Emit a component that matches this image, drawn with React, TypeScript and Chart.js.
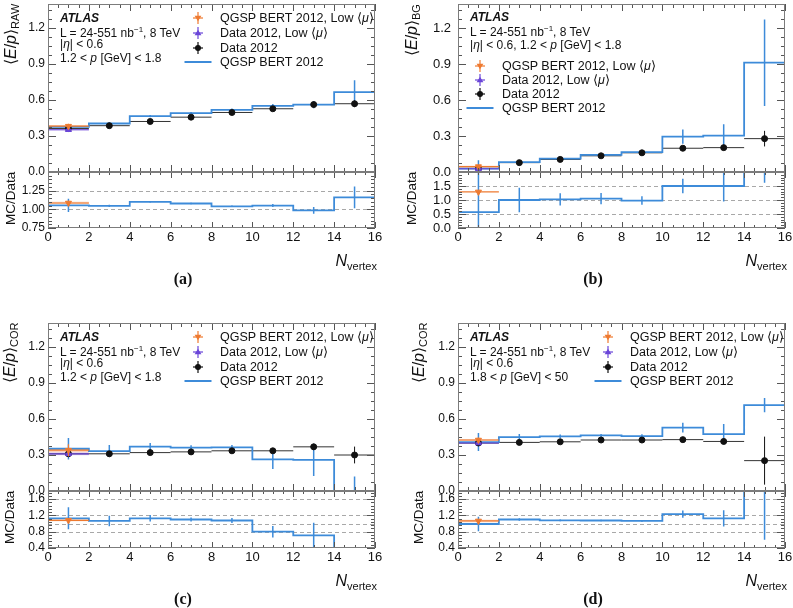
import React, { useEffect, useRef } from 'react';
import { Chart, registerables } from 'chart.js';

Chart.register(...registerables);

const FONT = '"Liberation Sans", Arial, Helvetica, sans-serif';
Chart.defaults.font.family = FONT;
Chart.defaults.color = '#111';

// ---------- shared axis data ----------
const BIN_EDGES = [0, 2, 4, 6, 8, 10, 12, 14, 16];
const X_TICKS = [0, 2, 4, 6, 8, 10, 12, 14, 16];
const MAIN_Y_TICKS = [0, 0.3, 0.6, 0.9, 1.2];

// ---------- panel (a): <E/p>_RAW ----------
const A_MC = [0.376, 0.404, 0.466, 0.491, 0.518, 0.551, 0.562, 0.665];
const A_MC_ERR = [0.012, 0.01, 0.01, 0.01, 0.012, 0.015, 0.03, 0.1];
const A_DATA = [0.362, 0.386, 0.421, 0.457, 0.496, 0.527, 0.562, 0.569];
const A_DATA_ERR = [0.006, 0.005, 0.005, 0.005, 0.006, 0.008, 0.012, 0.028];
const A_LOW_MC = [0.382];
const A_LOW_MC_ERR = [0.02];
const A_LOW_MC_BAND = [0.01];
const A_LOW_DATA = [0.352];
const A_LOW_DATA_ERR = [0.012];
const A_LOW_DATA_BAND = [0.007];
const A_RATIO = [1.053, 1.047, 1.1, 1.078, 1.04, 1.05, 0.987, 1.16];
const A_RATIO_ERR = [0.09, 0.015, 0.01, 0.01, 0.01, 0.02, 0.045, 0.145];
const A_LOW_RATIO = [1.085];
const A_LOW_RATIO_ERR = [0.03];
const A_LOW_RATIO_BAND = [0.015];
const A_RATIO_TICKS = [0.75, 1.0, 1.25];
const A_RATIO_REFS = [1.0, 1.25];

// ---------- panel (b): <E/p>_BG ----------
const B_MC = [0.028, 0.082, 0.112, 0.142, 0.166, 0.295, 0.303, 0.911];
const B_MC_ERR = [0.07, 0.015, 0.01, 0.012, 0.015, 0.06, 0.095, 0.36];
const B_DATA = [0.03, 0.078, 0.105, 0.135, 0.16, 0.198, 0.203, 0.278];
const B_DATA_ERR = [0.01, 0.006, 0.005, 0.006, 0.007, 0.01, 0.015, 0.065];
const B_LOW_MC = [0.045];
const B_LOW_MC_ERR = [0.01];
const B_LOW_MC_BAND = [0.007];
const B_LOW_DATA = [0.027];
const B_LOW_DATA_ERR = [0.008];
const B_LOW_DATA_BAND = [0.005];
const B_RATIO = [0.57, 1.0, 1.02, 1.05, 0.98, 1.5, 1.5, 3.3];
const B_RATIO_ERR = [1.7, 0.44, 0.22, 0.2, 0.15, 0.26, 0.55, 1.68];
const B_LOW_RATIO = [1.29];
const B_LOW_RATIO_ERR = [0.02];
const B_LOW_RATIO_BAND = [0.0];
const B_RATIO_TICKS = [0, 0.5, 1.0, 1.5];
const B_RATIO_REFS = [0.5, 1.0, 1.5];

// ---------- panel (c): <E/p>_COR, 1.2 < p < 1.8 ----------
const C_MC = [0.352, 0.333, 0.369, 0.361, 0.363, 0.264, 0.259, -0.06];
const C_MC_ERR = [0.09, 0.05, 0.03, 0.02, 0.02, 0.08, 0.135, 0.18];
const C_DATA = [0.31, 0.31, 0.32, 0.326, 0.335, 0.335, 0.368, 0.3];
const C_DATA_ERR = [0.01, 0.008, 0.008, 0.008, 0.01, 0.012, 0.025, 0.07];
const C_LOW_MC = [0.34];
const C_LOW_MC_ERR = [0.05];
const C_LOW_MC_BAND = [0.018];
const C_LOW_DATA = [0.31];
const C_LOW_DATA_ERR = [0.02];
const C_LOW_DATA_BAND = [0.012];
const C_RATIO = [1.13, 1.065, 1.13, 1.1, 1.075, 0.8, 0.71, -0.2];
const C_RATIO_ERR = [0.27, 0.13, 0.08, 0.05, 0.06, 0.14, 0.31, 0.6];
const C_LOW_RATIO = [1.08];
const C_LOW_RATIO_ERR = [0.04];
const C_LOW_RATIO_BAND = [0.02];
const C_RATIO_TICKS = [0.4, 0.8, 1.2, 1.6];
const C_RATIO_REFS = [0.8, 1.0, 1.2, 1.6];

// ---------- panel (d): <E/p>_COR, 1.8 < p < 50 ----------
const D_MC = [0.408, 0.449, 0.455, 0.463, 0.457, 0.528, 0.474, 0.716];
const D_MC_ERR = [0.075, 0.025, 0.015, 0.012, 0.015, 0.04, 0.085, 0.06];
const D_DATA = [0.4, 0.405, 0.41, 0.425, 0.425, 0.428, 0.413, 0.253];
const D_DATA_ERR = [0.01, 0.005, 0.005, 0.005, 0.006, 0.008, 0.012, 0.2];
const D_LOW_MC = [0.425];
const D_LOW_MC_ERR = [0.02];
const D_LOW_MC_BAND = [0.008];
const D_LOW_DATA = [0.4];
const D_LOW_DATA_ERR = [0.015];
const D_LOW_DATA_BAND = [0.007];
const D_RATIO = [0.99, 1.1, 1.08, 1.075, 1.065, 1.23, 1.13, 2.9];
const D_RATIO_ERR = [0.18, 0.03, 0.02, 0.02, 0.02, 0.09, 0.2, 2.3];
const D_LOW_RATIO = [1.065];
const D_LOW_RATIO_ERR = [0.03];
const D_LOW_RATIO_BAND = [0.03];
const D_RATIO_TICKS = [0.4, 0.8, 1.2, 1.6];
const D_RATIO_REFS = [0.8, 1.0, 1.2, 1.6];

// ---------- styles ----------
const BLUE = '#3d8bd9';
const ORANGE = '#ee7a30';
const PURPLE = '#6a45d8';
const BLACK = '#111';
const ORANGE_BAND = 'rgba(245,160,110,0.45)';
const PURPLE_BAND = 'rgba(175,140,235,0.40)';
const YW = 40;
const XH = 22;
const PW = 327;
const PADV = 16;

// ---------- helpers building library data from arrays ----------
const center = (i: number) => (BIN_EDGES[i] + BIN_EDGES[i + 1]) / 2;
const mkStep = (vals: number[]) => {
  const pts: any[] = vals.map((v, i) => ({ x: BIN_EDGES[i], y: v }));
  pts.push({ x: BIN_EDGES[vals.length], y: vals[vals.length - 1] });
  return pts;
};
const mkVErr = (vals: number[], errs: number[]) =>
  vals.flatMap((v, i) => [
    { x: center(i), y: v - errs[i] },
    { x: center(i), y: v + errs[i] },
    { x: center(i), y: null },
  ]);
const mkHErr = (vals: number[]) =>
  vals.flatMap((v, i) => [
    { x: BIN_EDGES[i], y: v },
    { x: BIN_EDGES[i + 1], y: v },
    { x: BIN_EDGES[i + 1], y: null },
  ]);
const mkPts = (vals: number[]) => vals.map((v, i) => ({ x: center(i), y: v }));
const mkBandEdge = (vals: number[], half: number[], sign: number) =>
  vals.flatMap((v, i) => [
    { x: BIN_EDGES[i], y: v + sign * half[i] },
    { x: BIN_EDGES[i + 1], y: v + sign * half[i] },
  ]);

const lineDs = (data: any[], color: string, width: number, extra: any = {}) => ({
  data,
  borderColor: color,
  borderWidth: width,
  pointRadius: 0,
  fill: false,
  spanGaps: false,
  ...extra,
});
const pointDs = (data: any[], color: string, style: string, radius: number, rotation = 0) => ({
  data,
  showLine: false,
  pointStyle: style,
  pointRadius: radius,
  pointRotation: rotation,
  pointBackgroundColor: color,
  pointBorderColor: color,
  pointBorderWidth: 1,
});
const bandDs = (vals: number[], half: number[], color: string) => [
  lineDs(mkBandEdge(vals, half, 1), 'rgba(0,0,0,0)', 0, { fill: '+1', backgroundColor: color }),
  lineDs(mkBandEdge(vals, half, -1), 'rgba(0,0,0,0)', 0),
];

// ---------- frame / inward ticks plugin ----------
const atlasFrame = {
  id: 'atlasFrame',
  beforeDatasetsDraw(chart: any, _a: any, o: any) {
    const { ctx, chartArea: a, scales } = chart;
    if (!o.refs) return;
    ctx.save();
    ctx.strokeStyle = '#a8a8a8';
    ctx.lineWidth = 1;
    ctx.setLineDash([4, 3]);
    o.refs.forEach((v: number) => {
      const y = Math.round(scales.y.getPixelForValue(v)) + 0.5;
      ctx.beginPath();
      ctx.moveTo(a.left, y);
      ctx.lineTo(a.right, y);
      ctx.stroke();
    });
    ctx.restore();
  },
  afterDatasetsDraw(chart: any, _a: any, o: any) {
    const { ctx, chartArea: a, scales } = chart;
    const xs = scales.x;
    const ys = scales.y;
    ctx.save();
    ctx.setLineDash([]);
    ctx.lineWidth = 1;
    ctx.strokeStyle = '#555';
    const xTicks = (step: number, len: number) => {
      const n = Math.round((xs.max - xs.min) / step);
      for (let i = 0; i <= n; i++) {
        const x = Math.round(xs.getPixelForValue(xs.min + i * step)) + 0.5;
        ctx.beginPath();
        ctx.moveTo(x, a.bottom);
        ctx.lineTo(x, a.bottom - len);
        ctx.moveTo(x, a.top);
        ctx.lineTo(x, a.top + len);
        ctx.stroke();
      }
    };
    const yTicks = (step: number, len: number) => {
      const n = Math.floor((ys.max - ys.min) / step + 1e-6);
      for (let i = 0; i <= n; i++) {
        const y = Math.round(ys.getPixelForValue(ys.min + i * step)) + 0.5;
        ctx.beginPath();
        ctx.moveTo(a.left, y);
        ctx.lineTo(a.left + len, y);
        ctx.moveTo(a.right, y);
        ctx.lineTo(a.right - len, y);
        ctx.stroke();
      }
    };
    xTicks(o.xMinor, o.xMinorLen);
    xTicks(o.xMajor, o.xMajorLen);
    yTicks(o.yMinor, o.yMinorLen);
    yTicks(o.yMajor, o.yMajorLen);
    ctx.strokeStyle = '#7c7c7c';
    ctx.strokeRect(a.left + 0.5, a.top + 0.5, a.right - a.left - 1, a.bottom - a.top - 1);
    ctx.restore();
  },
};

// ---------- panel definitions ----------
const PANELS = [
  {
    id: 'a', left: 48, top: 4, mainH: 168, ratioH: 56, gap: 3, tickFont: 12, titleX: 11, sub: 'RAW', layout: 1,
    kin: ['|η| < 0.6', '1.2 < p [GeV] < 1.8'],
    mc: A_MC, mcErr: A_MC_ERR, data: A_DATA, dataErr: A_DATA_ERR,
    lowMc: A_LOW_MC, lowMcErr: A_LOW_MC_ERR, lowMcBand: A_LOW_MC_BAND,
    lowData: A_LOW_DATA, lowDataErr: A_LOW_DATA_ERR, lowDataBand: A_LOW_DATA_BAND,
    ratio: A_RATIO, ratioErr: A_RATIO_ERR, lowRatio: A_LOW_RATIO, lowRatioErr: A_LOW_RATIO_ERR, lowRatioBand: A_LOW_RATIO_BAND,
    rMin: 0.75, rMax: 1.5, rTicks: A_RATIO_TICKS, rMajor: 0.25, rMinor: 0.05, rRefs: A_RATIO_REFS, rDec: 2,
  },
  {
    id: 'b', left: 458, top: 4, mainH: 168, ratioH: 56, gap: 7, tickFont: 13, titleX: 412, sub: 'BG', layout: 2,
    kin: ['|η| < 0.6, 1.2 < p [GeV] < 1.8'],
    mc: B_MC, mcErr: B_MC_ERR, data: B_DATA, dataErr: B_DATA_ERR,
    lowMc: B_LOW_MC, lowMcErr: B_LOW_MC_ERR, lowMcBand: B_LOW_MC_BAND,
    lowData: B_LOW_DATA, lowDataErr: B_LOW_DATA_ERR, lowDataBand: B_LOW_DATA_BAND,
    ratio: B_RATIO, ratioErr: B_RATIO_ERR, lowRatio: B_LOW_RATIO, lowRatioErr: B_LOW_RATIO_ERR, lowRatioBand: B_LOW_RATIO_BAND,
    rMin: 0, rMax: 2.0, rTicks: B_RATIO_TICKS, rMajor: 0.5, rMinor: 0.1, rRefs: B_RATIO_REFS, rDec: 1,
  },
  {
    id: 'c', left: 48, top: 323, mainH: 168, ratioH: 57, gap: 3, tickFont: 12, titleX: 10, sub: 'COR', layout: 1,
    kin: ['|η| < 0.6', '1.2 < p [GeV] < 1.8'],
    mc: C_MC, mcErr: C_MC_ERR, data: C_DATA, dataErr: C_DATA_ERR,
    lowMc: C_LOW_MC, lowMcErr: C_LOW_MC_ERR, lowMcBand: C_LOW_MC_BAND,
    lowData: C_LOW_DATA, lowDataErr: C_LOW_DATA_ERR, lowDataBand: C_LOW_DATA_BAND,
    ratio: C_RATIO, ratioErr: C_RATIO_ERR, lowRatio: C_LOW_RATIO, lowRatioErr: C_LOW_RATIO_ERR, lowRatioBand: C_LOW_RATIO_BAND,
    rMin: 0.4, rMax: 1.8, rTicks: C_RATIO_TICKS, rMajor: 0.4, rMinor: 0.08, rRefs: C_RATIO_REFS, rDec: 1,
  },
  {
    id: 'd', left: 458, top: 323, mainH: 168, ratioH: 57, gap: 3, tickFont: 12, titleX: 419, sub: 'COR', layout: 1,
    kin: ['|η| < 0.6', '1.8 < p [GeV] < 50'],
    mc: D_MC, mcErr: D_MC_ERR, data: D_DATA, dataErr: D_DATA_ERR,
    lowMc: D_LOW_MC, lowMcErr: D_LOW_MC_ERR, lowMcBand: D_LOW_MC_BAND,
    lowData: D_LOW_DATA, lowDataErr: D_LOW_DATA_ERR, lowDataBand: D_LOW_DATA_BAND,
    ratio: D_RATIO, ratioErr: D_RATIO_ERR, lowRatio: D_LOW_RATIO, lowRatioErr: D_LOW_RATIO_ERR, lowRatioBand: D_LOW_RATIO_BAND,
    rMin: 0.4, rMax: 1.8, rTicks: D_RATIO_TICKS, rMajor: 0.4, rMinor: 0.08, rRefs: D_RATIO_REFS, rDec: 1,
  },
];

const yAxis = (p: any, min: number, max: number, ticks: number[], dec: number) => ({
  type: 'linear',
  min,
  max,
  afterBuildTicks: (s: any) => {
    s.ticks = ticks.map((v) => ({ value: v }));
  },
  afterFit: (s: any) => {
    s.width = YW;
  },
  ticks: {
    padding: p.gap,
    color: BLACK,
    autoSkip: false,
    font: { size: p.tickFont },
    callback: (v: any) => Number(v).toFixed(dec),
  },
  grid: { display: false, drawTicks: false },
  border: { display: false },
});

function mainConfig(p: any) {
  const datasets = [
    pointDs(mkPts(p.lowMc), ORANGE, 'triangle', 3.5, 180),
    lineDs([...mkVErr(p.lowMc, p.lowMcErr), ...mkHErr(p.lowMc)], ORANGE, 1.2),
    pointDs(mkPts(p.lowData), PURPLE, 'triangle', 3.5),
    lineDs([...mkVErr(p.lowData, p.lowDataErr), ...mkHErr(p.lowData)], PURPLE, 1.2),
    pointDs(mkPts(p.data), BLACK, 'circle', 3),
    lineDs(mkVErr(p.data, p.dataErr), BLACK, 1),
    lineDs(mkVErr(p.mc, p.mcErr), BLUE, 1.5),
    lineDs(mkStep(p.mc), BLUE, 1.8, { stepped: 'before' }),
    lineDs(mkHErr(p.data), '#333', 1),
    ...bandDs(p.lowMc, p.lowMcBand, ORANGE_BAND),
    ...bandDs(p.lowData, p.lowDataBand, PURPLE_BAND),
  ];
  return {
    type: 'line',
    data: { datasets },
    options: {
      responsive: false,
      animation: false,
      events: [],
      layout: { padding: { left: 0, right: 10, top: PADV, bottom: PADV } },
      plugins: {
        legend: { display: false },
        tooltip: { enabled: false },
        atlasFrame: {
          xMajor: 2, xMinor: 0.5, xMajorLen: 7, xMinorLen: 4,
          yMajor: 0.3, yMinor: 0.075, yMajorLen: 8, yMinorLen: 4,
        },
      },
      scales: {
        x: { type: 'linear', min: 0, max: 16, display: false },
        y: yAxis(p, 0, 1.4, MAIN_Y_TICKS, 1),
      },
    },
    plugins: [atlasFrame],
  };
}

function ratioConfig(p: any) {
  const datasets = [
    pointDs(mkPts(p.lowRatio), ORANGE, 'triangle', 3.5, 180),
    lineDs([...mkVErr(p.lowRatio, p.lowRatioErr), ...mkHErr(p.lowRatio)], ORANGE, 1.2),
    lineDs(mkVErr(p.ratio, p.ratioErr), BLUE, 1.5),
    lineDs(mkStep(p.ratio), BLUE, 1.8, { stepped: 'before' }),
    ...bandDs(p.lowRatio, p.lowRatioBand, ORANGE_BAND),
  ];
  return {
    type: 'line',
    data: { datasets },
    options: {
      responsive: false,
      animation: false,
      events: [],
      layout: { padding: { left: 0, right: 10, top: PADV, bottom: 0 } },
      plugins: {
        legend: { display: false },
        tooltip: { enabled: false },
        atlasFrame: {
          refs: p.rRefs,
          xMajor: 2, xMinor: 0.5, xMajorLen: 6, xMinorLen: 3,
          yMajor: p.rMajor, yMinor: p.rMinor, yMajorLen: 8, yMinorLen: 4,
        },
      },
      scales: {
        x: {
          type: 'linear',
          min: 0,
          max: 16,
          afterBuildTicks: (s: any) => {
            s.ticks = X_TICKS.map((v) => ({ value: v }));
          },
          afterFit: (s: any) => {
            s.height = XH;
          },
          ticks: { padding: 2, color: BLACK, font: { size: 13 }, autoSkip: false, maxRotation: 0, callback: (v: any) => String(v) },
          grid: { display: false, drawTicks: false },
          border: { display: false },
        },
        y: yAxis(p, p.rMin, p.rMax, p.rTicks, p.rDec),
      },
    },
    plugins: [atlasFrame],
  };
}

function ChartCanvas({ config, left, top, width, height }: any) {
  const ref = useRef<HTMLCanvasElement>(null);
  useEffect(() => {
    const chart = new Chart(ref.current as HTMLCanvasElement, config);
    return () => chart.destroy();
  }, []);
  return (
    <canvas
      ref={ref}
      width={width}
      height={height}
      style={{ position: 'absolute', left, top, width, height }}
    />
  );
}

function Txt({ x, y, size = 12, children, style }: any) {
  return (
    <div
      style={{
        position: 'absolute',
        left: x,
        top: y - 8,
        height: 16,
        lineHeight: '16px',
        fontSize: size,
        whiteSpace: 'nowrap',
        ...style,
      }}
    >
      {children}
    </div>
  );
}

function Sym({ kind, cx, cy }: any) {
  const w = 30;
  const h = 16;
  const col = kind === 'mc' ? ORANGE : kind === 'low' ? PURPLE : BLACK;
  return (
    <svg width={w} height={h} style={{ position: 'absolute', left: cx - w / 2, top: cy - h / 2 }}>
      {kind === 'line' ? (
        <line x1={1.5} x2={28.5} y1={8} y2={8} stroke={BLUE} strokeWidth={2} />
      ) : (
        <g>
          <line x1={10} x2={20} y1={8} y2={8} stroke={col} strokeWidth={1.2} />
          <line x1={15} x2={15} y1={2} y2={14} stroke={col} strokeWidth={1.2} />
          {kind === 'mc' && <polygon points="11.6,5.8 18.4,5.8 15,11.2" fill={col} />}
          {kind === 'low' && <polygon points="15,4.8 18.4,10.2 11.6,10.2" fill={col} />}
          {kind === 'data' && <circle cx={15} cy={8} r={3} fill={col} />}
        </g>
      )}
    </svg>
  );
}

const kinText = (s: string) => {
  const parts = s.split(/(η|\bp\b)/);
  return parts.map((t, i) => (t === 'η' || t === 'p' ? <i key={i}>{t}</i> : <span key={i}>{t}</span>));
};

function Panel({ p }: any) {
  const mainTop = p.top - PADV;
  const mainH = p.mainH + 2 * PADV;
  const ratioTop = p.top + p.mainH - PADV;
  const ratioH = PADV + p.ratioH + XH;
  const cLeft = p.left - YW;
  const cW = YW + PW + 10;
  const L = p.left;
  const T = p.top;
  const ann = p.layout === 1
    ? { rows: [14, 29, 40, 54], legRows: [14, 29, 44, 58], mx: 150, tx: 172 }
    : { rows: [13, 28, 41], legRows: [62, 76, 90, 104], mx: 22, tx: 44 };
  const legendItems = [
    { kind: 'mc', text: <span>QGSP BERT 2012, Low ⟨<i>μ</i>⟩</span> },
    { kind: 'low', text: <span>Data 2012, Low ⟨<i>μ</i>⟩</span> },
    { kind: 'data', text: <span>Data 2012</span> },
    { kind: 'line', text: <span>QGSP BERT 2012</span> },
  ];
  const botY = p.top + p.mainH + p.ratioH;
  return (
    <>
      <ChartCanvas config={mainConfig(p)} left={cLeft} top={mainTop} width={cW} height={mainH} />
      <ChartCanvas config={ratioConfig(p)} left={cLeft} top={ratioTop} width={cW} height={ratioH} />
      <div
        style={{
          position: 'absolute', left: p.titleX - 10, top: T, width: 20, height: p.mainH,
          writingMode: 'vertical-rl', transform: 'rotate(180deg)', textAlign: 'end',
          fontSize: 16, lineHeight: '20px', whiteSpace: 'nowrap',
        }}
      >
        ⟨<i>E</i>/<i>p</i>⟩<sub style={{ fontSize: 11 }}>{p.sub}</sub>
      </div>
      <div
        style={{
          position: 'absolute', left: p.titleX - 10, top: T + p.mainH, width: 20, height: p.ratioH,
          writingMode: 'vertical-rl', transform: 'rotate(180deg)', textAlign: 'end',
          fontSize: 13.5, lineHeight: '20px', whiteSpace: 'nowrap',
        }}
      >
        MC/Data
      </div>
      <Txt x={L + 12} y={T + ann.rows[0]} style={{ fontWeight: 'bold', fontStyle: 'italic' }}>ATLAS</Txt>
      <Txt x={L + 12} y={T + ann.rows[1]}>
        L = 24-551 nb<sup style={{ fontSize: 8, lineHeight: 0 }}>−1</sup>, 8 TeV
      </Txt>
      {p.kin.map((k: string, i: number) => (
        <Txt key={i} x={L + 12} y={T + ann.rows[2] + i * 14}>{kinText(k)}</Txt>
      ))}
      {legendItems.map((it, i) => (
        <React.Fragment key={i}>
          <Sym kind={it.kind} cx={L + ann.mx} cy={T + ann.legRows[i]} />
          <Txt x={L + ann.tx} y={T + ann.legRows[i]} size={12.5}>{it.text}</Txt>
        </React.Fragment>
      ))}
      <div
        style={{
          position: 'absolute', left: L + PW - 200 + 2, width: 200, top: botY + 23, textAlign: 'right',
          fontSize: 16, lineHeight: '20px', whiteSpace: 'nowrap',
        }}
      >
        <i>N</i><sub style={{ fontSize: 11 }}>vertex</sub>
      </div>
      <div
        style={{
          position: 'absolute', left: L + 135 - 40, width: 80, top: botY + 41, textAlign: 'center',
          fontFamily: '"Liberation Serif", "Times New Roman", serif', fontWeight: 'bold', fontSize: 16, lineHeight: '20px',
        }}
      >
        ({p.id})
      </div>
    </>
  );
}

export default function App() {
  return (
    <div
      style={{
        position: 'absolute', left: 0, top: 0, width: 793, height: 608, overflow: 'hidden',
        background: '#fff', fontFamily: FONT, color: BLACK,
      }}
    >
      {PANELS.map((p) => (
        <Panel key={p.id} p={p} />
      ))}
    </div>
  );
}
